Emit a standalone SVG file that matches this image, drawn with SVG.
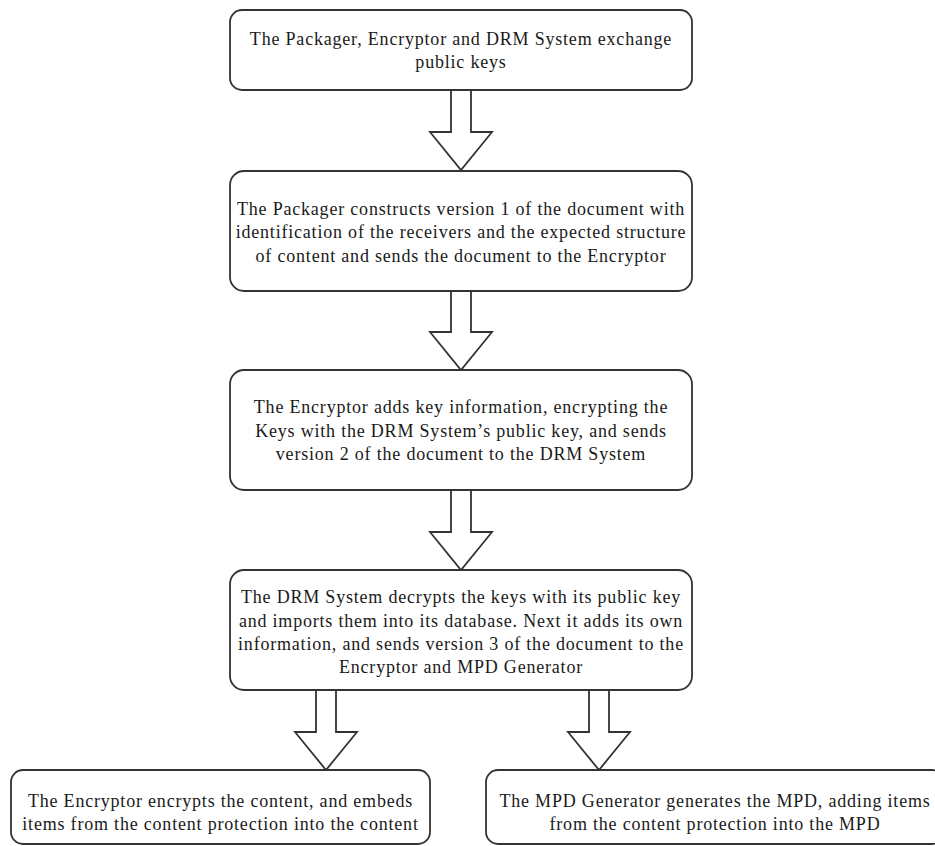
<svg xmlns="http://www.w3.org/2000/svg" width="935" height="846" viewBox="0 0 935 846">
<style>
.box{fill:#fff;stroke:#333;stroke-width:1.8}
.arr{fill:#fff;stroke:#333;stroke-width:1.8;stroke-linejoin:miter}
.t{font-family:"Liberation Serif","Times New Roman",serif;font-size:18px;letter-spacing:0.8px;fill:#1a1a1a;text-anchor:middle}
</style>
<rect width="935" height="846" fill="#fff"/>
<g id="connectors">
<polygon class="arr" points="451,90 471,90 471,132 492,132 461,170 430,132 451,132"/>
<polygon class="arr" points="451,291 471,291 471,332 492,332 461,370 430,332 451,332"/>
<polygon class="arr" points="451,490 471,490 471,532 492,532 461,570 430,532 451,532"/>
<polygon class="arr" points="316,690 336,690 336,732 357,732 326,770 295,732 316,732"/>
<polygon class="arr" points="589,690 609,690 609,732 630,732 599,770 568,732 589,732"/>
</g>
<g id="n1">
<rect class="box" x="230" y="10" width="462" height="80" rx="12"/>
<text class="t" x="461" y="45">The Packager, Encryptor and DRM System exchange</text>
<text class="t" x="461" y="68">public keys</text>
</g>
<g id="n2">
<rect class="box" x="230" y="171" width="462" height="120" rx="14"/>
<text class="t" x="461" y="215">The Packager constructs version 1 of the document with</text>
<text class="t" x="461" y="238">identification of the receivers and the expected structure</text>
<text class="t" x="461" y="262">of content and sends the document to the Encryptor</text>
</g>
<g id="n3">
<rect class="box" x="230" y="370" width="462" height="120" rx="14"/>
<text class="t" x="461" y="413">The Encryptor adds key information, encrypting the</text>
<text class="t" x="461" y="437">Keys with the DRM System’s public key, and sends</text>
<text class="t" x="461" y="460">version 2 of the document to the DRM System</text>
</g>
<g id="n4">
<rect class="box" x="230" y="570" width="462" height="120" rx="14"/>
<text class="t" x="461" y="603">The DRM System decrypts the keys with its public key</text>
<text class="t" x="461" y="627">and imports them into its database. Next it adds its own</text>
<text class="t" x="461" y="650">information, and sends version 3 of the document to the</text>
<text class="t" x="461" y="673">Encryptor and MPD Generator</text>
</g>
<g id="n5">
<rect class="box" x="11" y="770" width="419" height="74" rx="12"/>
<text class="t" x="220.5" y="807">The Encryptor encrypts the content, and embeds</text>
<text class="t" x="220.5" y="830">items from the content protection into the content</text>
</g>
<g id="n6">
<rect class="box" x="486" y="770" width="458" height="74" rx="12"/>
<text class="t" x="715" y="807">The MPD Generator generates the MPD, adding items</text>
<text class="t" x="715" y="830">from the content protection into the MPD</text>
</g>
</svg>
